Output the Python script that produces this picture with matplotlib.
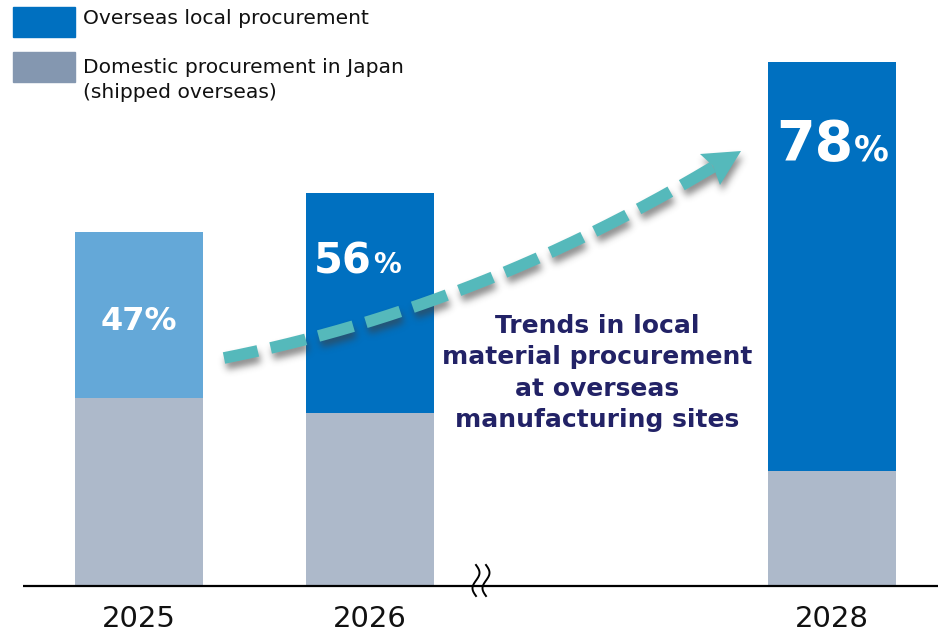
import numpy as np
import matplotlib
matplotlib.use("Agg")
import matplotlib.pyplot as plt
from matplotlib.patches import Rectangle, Polygon
import matplotlib.transforms as mtransforms

# ---- data ----
years = ["2025", "2026", "2028"]
year_values = [2025, 2026, 2028]
total_volume = [100, 111, 148]          # relative procurement volume
local_share = [47, 56, 78]              # overseas local procurement, %
series_names = ["Overseas local procurement",
                "Domestic procurement in Japan\n(shipped overseas)"]
note_text = "Trends in local\nmaterial procurement\nat overseas\nmanufacturing sites"

local_vals = [t * s / 100 for t, s in zip(total_volume, local_share)]
domestic_vals = [t - l for t, l in zip(total_volume, local_vals)]
xpos = [y - year_values[0] for y in year_values]

# ---- style ----
C_LOCAL = "#0070C0"
C_LOCAL_FIRST = "#64A8D8"
C_DOM = "#ADB9CA"
C_DOM_LEG = "#8497B0"
C_ARROW = "#55B9BB"
C_NOTE = "#222266"

W, H = 938, 635
fig = plt.figure(figsize=(W / 100, H / 100), dpi=100)
fig.patch.set_facecolor("white")

# main axes: one unit on x per year, baseline at y = 0
ax = fig.add_axes([0, 0, 1, 1])
px_x = 231.0          # pixels per year
x0 = 139.0            # pixel centre of first bar
px_y = 3.54           # pixels per volume unit
base = 586.0
ax.set_xlim(-x0 / px_x, (W - x0) / px_x)
ax.set_ylim(-(H - base) / px_y, base / px_y)
ax.axis("off")

bar_w = 128 / px_x
local_colors = [C_LOCAL_FIRST, C_LOCAL, C_LOCAL]
ax.bar(xpos, domestic_vals, width=bar_w, color=C_DOM, zorder=2)
ax.bar(xpos, local_vals, bottom=domestic_vals, width=bar_w,
       color=local_colors, zorder=2)

# baseline
ax.plot([(23 - x0) / px_x, (W - x0) / px_x], [0, 0], color="black",
        lw=1.6, zorder=3, solid_capstyle="butt")

# year labels
for xp, lab in zip(xpos, years):
    ax.text(xp, -(619 - base) / px_y, lab, ha="center", va="center",
            fontsize=21, family=["Liberation Sans Narrow", "DejaVu Sans"],
            color="#111111")


def shifted(dx_px):
    return ax.transData + mtransforms.ScaledTranslation(dx_px / 100, 0,
                                                        fig.dpi_scale_trans)


# percentage labels inside the local-procurement segment
label_cfg = [  # (number size, percent size, x offset px, height fraction)
    (23, 23, 0, 0.41),
    (30, 20, 2, 0.636),
    (40, 25, 21, 0.76),
]
for xp, d, l, s, (ns, ps, dx, fy) in zip(xpos, domestic_vals, local_vals,
                                          local_share, label_cfg):
    y = d + l * fy
    if ns == ps:
        ax.text(xp, y, f"{s}%", ha="center", va="baseline", fontsize=ns,
                fontweight="bold", color="white", zorder=4,
                transform=shifted(dx))
    else:
        # number with a smaller percent sign beside it
        ax.text(xp, y, f"{s}", ha="right", va="baseline", fontsize=ns,
                fontweight="bold", color="white", zorder=4,
                transform=shifted(dx))
        ax.text(xp, y, "%", ha="left", va="baseline", fontsize=ps,
                fontweight="bold", color="white", zorder=4,
                transform=shifted(dx + 1))

# ---- overlay in pixel coordinates for legend, arrow and note ----
ov = fig.add_axes([0, 0, 1, 1], facecolor="none")
ov.set_xlim(0, W)
ov.set_ylim(H, 0)
ov.axis("off")

# legend
ov.add_patch(Rectangle((13, 7), 62, 30, color=C_LOCAL))
ov.add_patch(Rectangle((13, 52), 62, 30, color=C_DOM_LEG))
ov.text(83, 19, series_names[0], ha="left", va="center", fontsize=14.6,
        color="#111111")
ov.text(83, 80, series_names[1], ha="left", va="center", fontsize=14.6,
        color="#111111", linespacing=1.38)

# trend arrow: quadratic Bezier with dashes
P0 = np.array([224.0, 358.0])
C1 = np.array([477.0, 308.0])
P2 = np.array([713.0, 167.0])
t = np.linspace(0, 1, 300)[:, None]
curve = (1 - t) ** 2 * P0 + 2 * (1 - t) * t * C1 + t ** 2 * P2
curve = curve[::-1]   # start the dash pattern at the head
head = np.array([[741, 151], [700, 154], [713, 166], [720, 185]], float)
ARROW_LW = 8.4
DASH = (0, (26.0 / ARROW_LW, 9.5 / ARROW_LW))


def draw_arrow(target, color, off=(0.0, 0.0), z=6):
    target.plot(curve[:, 0] + off[0], curve[:, 1] + off[1], color=color,
                lw=ARROW_LW, linestyle=DASH, dash_capstyle="butt", zorder=z)
    target.add_patch(Polygon(head + np.array(off), closed=True, color=color,
                             lw=0, zorder=z))


# soft drop shadow: render the arrow alone, blur its alpha, then overlay
sfig = plt.figure(figsize=(W / 100, H / 100), dpi=100)
sax = sfig.add_axes([0, 0, 1, 1])
sax.set_xlim(0, W)
sax.set_ylim(H, 0)
sax.axis("off")
sfig.patch.set_alpha(0)
draw_arrow(sax, "black", off=(2.0, 6.0))
sfig.canvas.draw()
alpha = np.asarray(sfig.canvas.buffer_rgba())[:, :, 3].astype(float) / 255
plt.close(sfig)
sig = 3.5
k = np.arange(-12, 13)
ker = np.exp(-k ** 2 / (2 * sig ** 2))
ker /= ker.sum()
alpha = np.apply_along_axis(lambda r: np.convolve(r, ker, mode="same"), 1, alpha)
alpha = np.apply_along_axis(lambda c: np.convolve(c, ker, mode="same"), 0, alpha)
shadow = np.zeros((H, W, 4))
shadow[..., :3] = 0.25
shadow[..., 3] = alpha * 0.6
ov.imshow(shadow, extent=(0, W, H, 0), zorder=5, interpolation="bilinear",
          aspect="auto")
ov.set_xlim(0, W)
ov.set_ylim(H, 0)

draw_arrow(ov, C_ARROW)

# note text
ov.text(597, 373, note_text, ha="center", va="center", fontsize=18,
        fontweight="bold", color=C_NOTE, linespacing=1.38, zorder=7)

# axis break mark
yy = np.linspace(565, 596, 60)
for xb in (476, 486):
    xx = xb + 3.5 * np.sin((yy - 565) / 31 * 2 * np.pi)
    ov.plot(xx, yy, color="black", lw=1.4, zorder=8)

fig.savefig("out.png", dpi=100, facecolor="white")
